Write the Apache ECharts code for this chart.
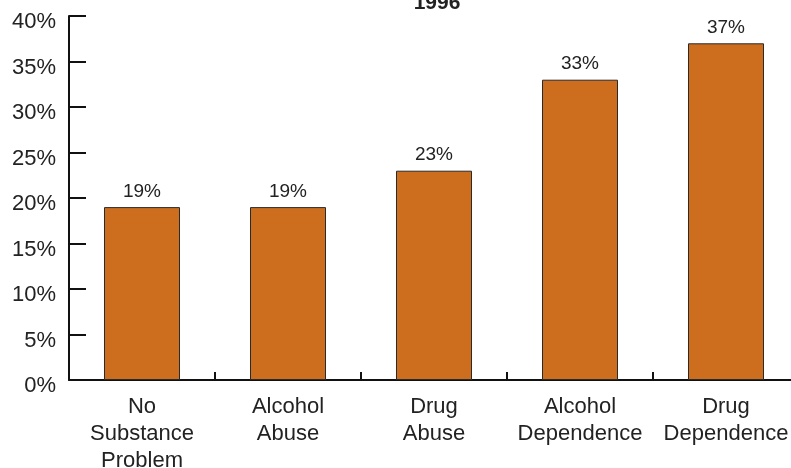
<!DOCTYPE html>
<html>
<head>
<meta charset="utf-8">
<script src="https://cdn.jsdelivr.net/npm/echarts@6/dist/echarts.min.js"></script>
<style>
  html, body { margin: 0; padding: 0; background: #fff; overflow: hidden; }
  #chart { width: 791px; height: 468px; }
</style>
</head>
<body>
<div id="chart"></div>
<script>
// Share of respondents by substance-use category, 1996
const categories = ['No\nSubstance\nProblem', 'Alcohol\nAbuse', 'Drug\nAbuse', 'Alcohol\nDependence', 'Drug\nDependence'];
const values = [19, 19, 23, 33, 37];
const yTicks = [0, 5, 10, 15, 20, 25, 30, 35, 40];

const font = '"Liberation Sans", Arial, Helvetica, sans-serif';
const chart = echarts.init(document.getElementById('chart'), null, { renderer: 'canvas' });

chart.setOption({
  animation: false,
  title: {
    text: '1996',
    left: 432,
    textAlign: 'center',
    top: -12,
    textStyle: { fontFamily: font, fontSize: 21, fontWeight: 'bold', color: '#222' }
  },
  grid: { left: 69, right: -8, top: 16, bottom: 88, containLabel: false, outerBoundsMode: 'none' },
  xAxis: {
    type: 'category',
    data: categories,
    axisLine: { lineStyle: { color: '#111', width: 2 } },
    axisTick: { show: true, inside: true, length: 8, lineStyle: { color: '#111', width: 2 } },
    axisLabel: {
      fontFamily: font, fontSize: 22, color: '#222',
      lineHeight: 27, margin: 13, interval: 0
    }
  },
  yAxis: {
    type: 'value',
    min: yTicks[0],
    max: yTicks[yTicks.length - 1],
    interval: 5,
    splitLine: { show: false },
    axisLine: { show: true, lineStyle: { color: '#111', width: 2 } },
    axisTick: { show: true, inside: true, length: 17, lineStyle: { color: '#111', width: 2 } },
    axisLabel: {
      fontFamily: font, fontSize: 22, color: '#222', margin: 13,
      verticalAlign: 'top', lineHeight: 12,
      formatter: v => v + '%'
    }
  },
  series: [{
    type: 'bar',
    data: values,
    barWidth: 76,
    itemStyle: { color: '#CD6E1E', borderColor: '#2a2a2a', borderWidth: 1 },
    label: {
      show: true, position: 'top', distance: 6,
      fontFamily: font, fontSize: 19, color: '#222',
      formatter: p => p.value + '%'
    }
  }]
});
</script>
</body>
</html>
